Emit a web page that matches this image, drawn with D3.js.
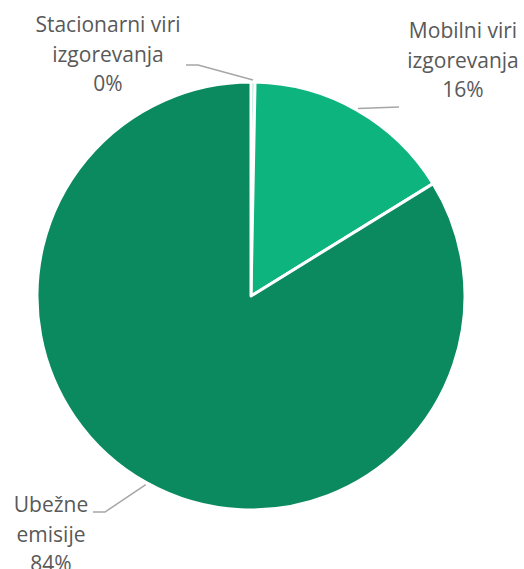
<!DOCTYPE html>
<html>
<head>
<meta charset="utf-8">
<script src="https://cdn.jsdelivr.net/npm/d3@7"></script>
<style>
  html, body { margin: 0; padding: 0; background: #fff; }
  svg { display: block; }
</style>
</head>
<body>
<svg id="chart" width="524" height="569"></svg>
<script>
// data
const categories = ["Stacionarni viri izgorevanja", "Mobilni viri izgorevanja", "Ubežne emisije"];
const values = [0.3, 15.9, 83.8];
const labelLines = [
  ["Stacionarni viri", "izgorevanja", "0%"],
  ["Mobilni viri", "izgorevanja", "16%"],
  ["Ubežne", "emisije", "84%"]
];
const colors = ["#3fc99a", "#0eb47e", "#0b8a60"];

// layout for labels (center x, first baseline y) and leader elbow/end points
const labelPos = [
  { x: 108, y: 32, elbow: [198, 65], end: [186, 65] },
  { x: 463, y: 38, elbow: [399, 107], end: [399, 107] },
  { x: 51,  y: 512, elbow: [105, 512], end: [93, 512] }
];

const cx = 251, cy = 296, radius = 214;

const svg = d3.select("#chart");
svg.selectAll("*").remove();

const g = svg.append("g").attr("transform", `translate(${cx},${cy})`);

const pie = d3.pie().sort(null).value(d => d)(values);
const arc = d3.arc().innerRadius(0).outerRadius(radius);

g.selectAll("path.slice")
  .data(pie)
  .join("path")
  .attr("class", "slice")
  .attr("d", arc)
  .attr("fill", (d, i) => colors[i])
  .attr("stroke", "#fff")
  .attr("stroke-width", 3)
  .attr("stroke-linejoin", "round");

// leader lines from slice edge to label
const pointAt = (ang, r) => [cx + r * Math.sin(ang), cy - r * Math.cos(ang)];
pie.forEach((d, i) => {
  const mid = (d.startAngle + d.endAngle) / 2;
  const p0 = pointAt(mid, radius + 2);
  const lp = labelPos[i];
  svg.append("polyline")
    .attr("points", [p0, lp.elbow, lp.end].map(p => p.join(",")).join(" "))
    .attr("fill", "none")
    .attr("stroke", "#a6a6a6")
    .attr("stroke-width", 1.5);
});

// labels
labelLines.forEach((lines, i) => {
  const lp = labelPos[i];
  const t = svg.append("text")
    .attr("text-anchor", "middle")
    .attr("font-family", "'Open Sans', sans-serif")
    .attr("font-size", 21)
    .attr("fill", "#595959");
  lines.forEach((s, j) => {
    t.append("tspan")
      .attr("x", lp.x)
      .attr("y", lp.y + j * 29.5)
      .text(s);
  });
});
</script>
</body>
</html>
